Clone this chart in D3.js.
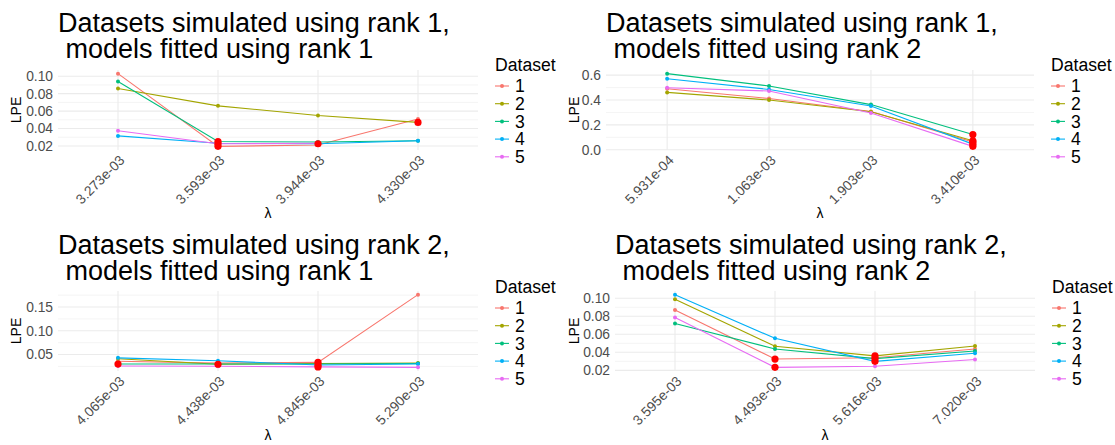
<!DOCTYPE html>
<html>
<head>
<meta charset="utf-8">
<script src="https://cdn.jsdelivr.net/npm/d3@7"></script>
<style>
  html, body { margin: 0; padding: 0; background: #fff; }
  svg { display: block; font-family: "Liberation Sans", Arial, sans-serif; }
</style>
</head>
<body>
<svg id="chart" width="1115" height="445"></svg>
<script>
// Dataset identifiers and their ggplot-style hue colours
const datasetIds = ["1", "2", "3", "4", "5"];
const datasetColors = ["#F8766D", "#A3A500", "#00BF7D", "#00B0F6", "#E76BF3"];

// Simulated rank 1, fitted rank 1
const lambdaS1F1 = ["3.273e-03", "3.593e-03", "3.944e-03", "4.330e-03"];
const lpeS1F1 = [
  [0.103, 0.0195, 0.021, 0.051],
  [0.086, 0.066, 0.055, 0.047],
  [0.094, 0.025, 0.0245, 0.026],
  [0.0315, 0.023, 0.0225, 0.026],
  [0.0375, 0.0225, 0.023, null]
];
const bestS1F1 = [1, 3, 1, 2, 1];
const ticksS1F1 = [0.02, 0.04, 0.06, 0.08, 0.10];

// Simulated rank 1, fitted rank 2
const lambdaS1F2 = ["5.931e-04", "1.063e-03", "1.903e-03", "3.410e-03"];
const lpeS1F2 = [
  [0.490, 0.412, 0.308, 0.062],
  [0.461, 0.400, 0.305, 0.072],
  [0.612, 0.513, 0.363, 0.122],
  [0.571, 0.485, 0.352, 0.045],
  [0.498, 0.472, 0.295, 0.027]
];
const bestS1F2 = [3, 3, 3, 3, 3];
const ticksS1F2 = [0.0, 0.2, 0.4, 0.6];

// Simulated rank 2, fitted rank 1
const lambdaS2F1 = ["4.065e-03", "4.438e-03", "4.845e-03", "5.290e-03"];
const lpeS2F1 = [
  [0.036, 0.032, 0.0335, 0.176],
  [0.041, 0.0296, 0.031, 0.032],
  [0.030, 0.030, 0.030, 0.031],
  [0.043, 0.037, 0.028, 0.030],
  [0.026, 0.0255, 0.024, 0.023]
];
const bestS2F1 = [2, 1, 0, 2, 2];
const ticksS2F1 = [0.05, 0.10, 0.15];

// Simulated rank 2, fitted rank 2
const lambdaS2F2 = ["3.595e-03", "4.493e-03", "5.616e-03", "7.020e-03"];
const lpeS2F2 = [
  [0.087, 0.0325, 0.034, 0.0437],
  [0.099, 0.0467, 0.036, 0.047],
  [0.072, 0.0437, 0.033, 0.0415],
  [0.104, 0.0555, 0.030, 0.039],
  [0.0785, 0.0233, 0.0245, 0.032]
];
const bestS2F2 = [1, 2, 2, 2, 1];
const ticksS2F2 = [0.02, 0.04, 0.06, 0.08, 0.10];

const panels = [
  { title: ["Datasets simulated using rank 1,", " models fitted using rank 1"],
    lambda: lambdaS1F1, lpe: lpeS1F1, best: bestS1F1, ticks: ticksS1F1, fmt: ".2f",
    cell: [0, 0], box: [58, 70, 478, 150] },
  { title: ["Datasets simulated using rank 1,", " models fitted using rank 2"],
    lambda: lambdaS1F2, lpe: lpeS1F2, best: bestS1F2, ticks: ticksS1F2, fmt: ".1f",
    cell: [557.5, 0], box: [606, 70, 1034, 150] },
  { title: ["Datasets simulated using rank 2,", " models fitted using rank 1"],
    lambda: lambdaS2F1, lpe: lpeS2F1, best: bestS2F1, ticks: ticksS2F1, fmt: ".2f",
    cell: [0, 222], box: [58, 291, 478, 371] },
  { title: ["Datasets simulated using rank 2,", " models fitted using rank 2"],
    lambda: lambdaS2F2, lpe: lpeS2F2, best: bestS2F2, ticks: ticksS2F2, fmt: ".2f",
    cell: [557.5, 222], box: [615, 291, 1035, 371] }
];

const svg = d3.select("#chart");
const gridColor = "#EBEBEB";
const axisTextColor = "#4D4D4D";
const fontStack = "Liberation Sans, Arial, sans-serif";

panels.forEach(p => {
  const [x0, y0, x1, y1] = p.box;
  const [cx, cy] = p.cell;
  const g = svg.append("g");

  // discrete x scale with 0.6 expansion on each side
  const x = d3.scalePoint().domain(p.lambda).range([x0, x1]).padding(0.6);

  // continuous y scale padded by 5% of the data range
  const all = p.lpe.flat().filter(v => v != null);
  const [lo, hi] = d3.extent(all);
  const pad = (hi - lo) * 0.05;
  const y = d3.scaleLinear().domain([lo - pad, hi + pad]).range([y1, y0]);

  // minor horizontal grid at midpoints of the major breaks
  const step = p.ticks[1] - p.ticks[0];
  const ext = [p.ticks[0] - step, ...p.ticks, p.ticks[p.ticks.length - 1] + step];
  const minor = d3.pairs(ext).map(([a, b]) => (a + b) / 2)
    .filter(v => v >= y.domain()[0] && v <= y.domain()[1]);

  g.selectAll("line.minor").data(minor).join("line")
    .attr("x1", x0).attr("x2", x1)
    .attr("y1", d => y(d)).attr("y2", d => y(d))
    .attr("stroke", gridColor).attr("stroke-width", 0.55);

  g.selectAll("line.majorY").data(p.ticks).join("line")
    .attr("x1", x0).attr("x2", x1)
    .attr("y1", d => y(d)).attr("y2", d => y(d))
    .attr("stroke", gridColor).attr("stroke-width", 1.1);

  g.selectAll("line.majorX").data(p.lambda).join("line")
    .attr("x1", d => x(d)).attr("x2", d => x(d))
    .attr("y1", y0).attr("y2", y1)
    .attr("stroke", gridColor).attr("stroke-width", 1.1);

  // y axis tick labels
  const yAxis = d3.axisLeft(y).tickValues(p.ticks).tickFormat(d3.format(p.fmt))
    .tickSize(0).tickPadding(5);
  const ya = g.append("g").attr("transform", `translate(${x0},0)`).call(yAxis);
  ya.select(".domain").remove();
  ya.attr("font-family", fontStack).attr("font-size", 13.8);
  ya.selectAll("text").attr("fill", axisTextColor);

  // x axis tick labels, rotated 45 degrees
  const xAxis = d3.axisBottom(x).tickSize(0).tickPadding(0);
  const xa = g.append("g").attr("transform", `translate(0,${y1})`).call(xAxis);
  xa.select(".domain").remove();
  xa.attr("font-family", fontStack).attr("font-size", 13.8);
  xa.selectAll("text")
    .attr("fill", axisTextColor)
    .attr("text-anchor", "end")
    .attr("dy", "0.72em")
    .attr("transform", "translate(0,4) rotate(-45)")
    .attr("y", 0).attr("x", 0);

  // lines for each dataset
  const line = d3.line()
    .defined(d => d.v != null)
    .x(d => x(d.l)).y(d => y(d.v));

  const series = p.lpe.map((vals, i) => ({
    id: datasetIds[i], color: datasetColors[i],
    pts: vals.map((v, j) => ({ l: p.lambda[j], v }))
  }));

  g.selectAll("path.series").data(series).join("path")
    .attr("fill", "none")
    .attr("stroke", d => d.color)
    .attr("stroke-width", 1.1)
    .attr("d", d => line(d.pts));

  series.forEach(s => {
    g.selectAll(null).data(s.pts.filter(d => d.v != null)).join("circle")
      .attr("cx", d => x(d.l)).attr("cy", d => y(d.v))
      .attr("r", 2).attr("fill", s.color);
  });

  // selected lambda per dataset
  const chosen = p.best.map((j, i) => ({ l: p.lambda[j], v: p.lpe[i][j] }));
  g.selectAll("circle.best").data(chosen).join("circle")
    .attr("cx", d => x(d.l)).attr("cy", d => y(d.v))
    .attr("r", 3.6).attr("fill", "red");

  // title, two lines
  p.title.forEach((line, i) => {
    g.append("text")
      .attr("x", x0).attr("y", cy + 32 + i * 26)
      .attr("font-size", 27).attr("fill", "#000")
      .style("white-space", "pre")
      .text(line);
  });

  // axis titles
  g.append("text")
    .attr("transform", `translate(${cx + 21},${(y0 + y1) / 2}) rotate(-90)`)
    .attr("text-anchor", "middle")
    .attr("font-size", 14).attr("fill", "#000")
    .text("LPE");

  g.append("text")
    .attr("x", (x0 + x1) / 2).attr("y", cy + 218)
    .attr("text-anchor", "middle")
    .attr("font-size", 14).attr("fill", "#000")
    .text("λ");

  // legend
  const lg = g.append("g").attr("transform", `translate(${x1 + 17},${cy})`);
  lg.append("text")
    .attr("x", 0).attr("y", 71)
    .attr("font-size", 17.6).attr("fill", "#000")
    .text("Dataset");
  const items = lg.selectAll("g.item").data(series).join("g")
    .attr("transform", (d, i) => `translate(0,${86 + i * 17.7})`);
  items.append("line")
    .attr("x1", 0).attr("x2", 14).attr("y1", 0).attr("y2", 0)
    .attr("stroke", d => d.color).attr("stroke-width", 1.1);
  items.append("circle")
    .attr("cx", 7).attr("cy", 0).attr("r", 2).attr("fill", d => d.color);
  items.append("text")
    .attr("x", 20).attr("y", 0).attr("dy", "0.35em")
    .attr("font-size", 17.6).attr("fill", "#000")
    .text(d => d.id);
});
</script>
</body>
</html>
